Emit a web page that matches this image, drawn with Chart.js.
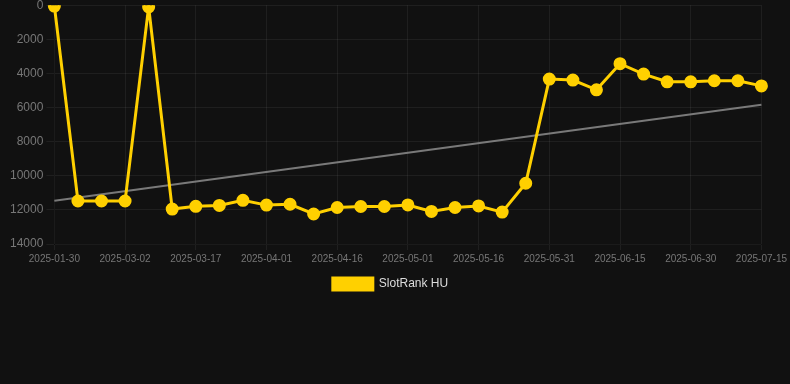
<!DOCTYPE html>
<html>
<head>
<meta charset="utf-8">
<script src="https://cdn.jsdelivr.net/npm/chart.js@4/dist/chart.umd.min.js"></script>
<style>
  html, body { margin: 0; padding: 0; background: #111111; overflow: hidden; }
  #wrap { width: 790px; height: 305px; position: relative; margin-top: -5px; }
</style>
</head>
<body>
<div id="wrap"><canvas id="myChart"></canvas></div>
<script>
  // dates of each point (every 3rd one is shown on the axis)
  const dates = [
    "2025-01-30", "2025-02-09", "2025-02-19", "2025-03-02", "2025-03-07", "2025-03-12",
    "2025-03-17", "2025-03-22", "2025-03-27", "2025-04-01", "2025-04-06", "2025-04-11",
    "2025-04-16", "2025-04-21", "2025-04-26", "2025-05-01", "2025-05-06", "2025-05-11",
    "2025-05-16", "2025-05-21", "2025-05-26", "2025-05-31", "2025-06-05", "2025-06-10",
    "2025-06-15", "2025-06-20", "2025-06-25", "2025-06-30", "2025-07-05", "2025-07-10",
    "2025-07-15",
  ];

  const rankHU = [
    50, 11480, 11480, 11480, 100, 11950, 11790, 11740, 11440, 11720, 11670,
    12240, 11860, 11800, 11800, 11710, 12090, 11860, 11770, 12130, 10440,
    4330, 4390, 4960, 3430, 4040, 4490, 4490, 4430, 4430, 4730,
  ];

  // trend line: only the two ends are known
  const trendStart = 11460;
  const trendEnd = 5830;
  const trend = dates.map((d, i) =>
    i === 0 ? trendStart : i === dates.length - 1 ? trendEnd : null
  );

  const yTicks = [0, 2000, 4000, 6000, 8000, 10000, 12000, 14000];

  const gridColor = "rgba(255,255,255,0.06)";

  const ctx = document.getElementById("myChart");
  new Chart(ctx, {
    type: "line",
    data: {
      labels: dates,
      datasets: [
        {
          label: "SlotRank HU",
          data: rankHU,
          borderColor: "#ffd000",
          backgroundColor: "#ffd000",
          borderWidth: 3,
          pointRadius: 5,
          pointBackgroundColor: "#ffd000",
          pointBorderColor: "#ffd000",
          lineTension: 0,
        },
        {
          label: "trend",
          data: trend,
          spanGaps: true,
          borderColor: "rgba(140,140,140,0.85)",
          borderWidth: 2,
          pointRadius: 0,
          lineTension: 0,
        },
      ],
    },
    options: {
      responsive: true,
      maintainAspectRatio: false,
      animation: false,
      layout: { padding: { left: 7, right: 16 } },
      scales: {
        x: {
          grid: {
            color: (c) => (c.index % 3 === 0 ? gridColor : "transparent"),
            tickLength: 6,
          },
          ticks: {
            color: "#777",
            font: { family: "Liberation Sans", size: 10 },
            autoSkip: false,
            maxRotation: 0,
            callback: (v, i) => (i % 3 === 0 ? dates[i] : ""),
          },
        },
        y: {
          reverse: true,
          min: 0,
          max: 14000,
          grid: { color: gridColor },
          afterBuildTicks: (axis) => {
            axis.ticks = yTicks.map((v) => ({ value: v }));
          },
          ticks: {
            color: "#777",
            font: { family: "Liberation Sans", size: 12 },
            callback: (v) => String(v),
          },
        },
      },
      plugins: {
        legend: {
          position: "bottom",
          labels: {
            color: "#ddd",
            font: { family: "Liberation Sans", size: 12 },
            boxWidth: 40,
            boxHeight: 12,
            filter: (item) => item.text !== "trend",
          },
        },
        tooltip: { enabled: false },
      },
    },
  });
</script>
</body>
</html>
